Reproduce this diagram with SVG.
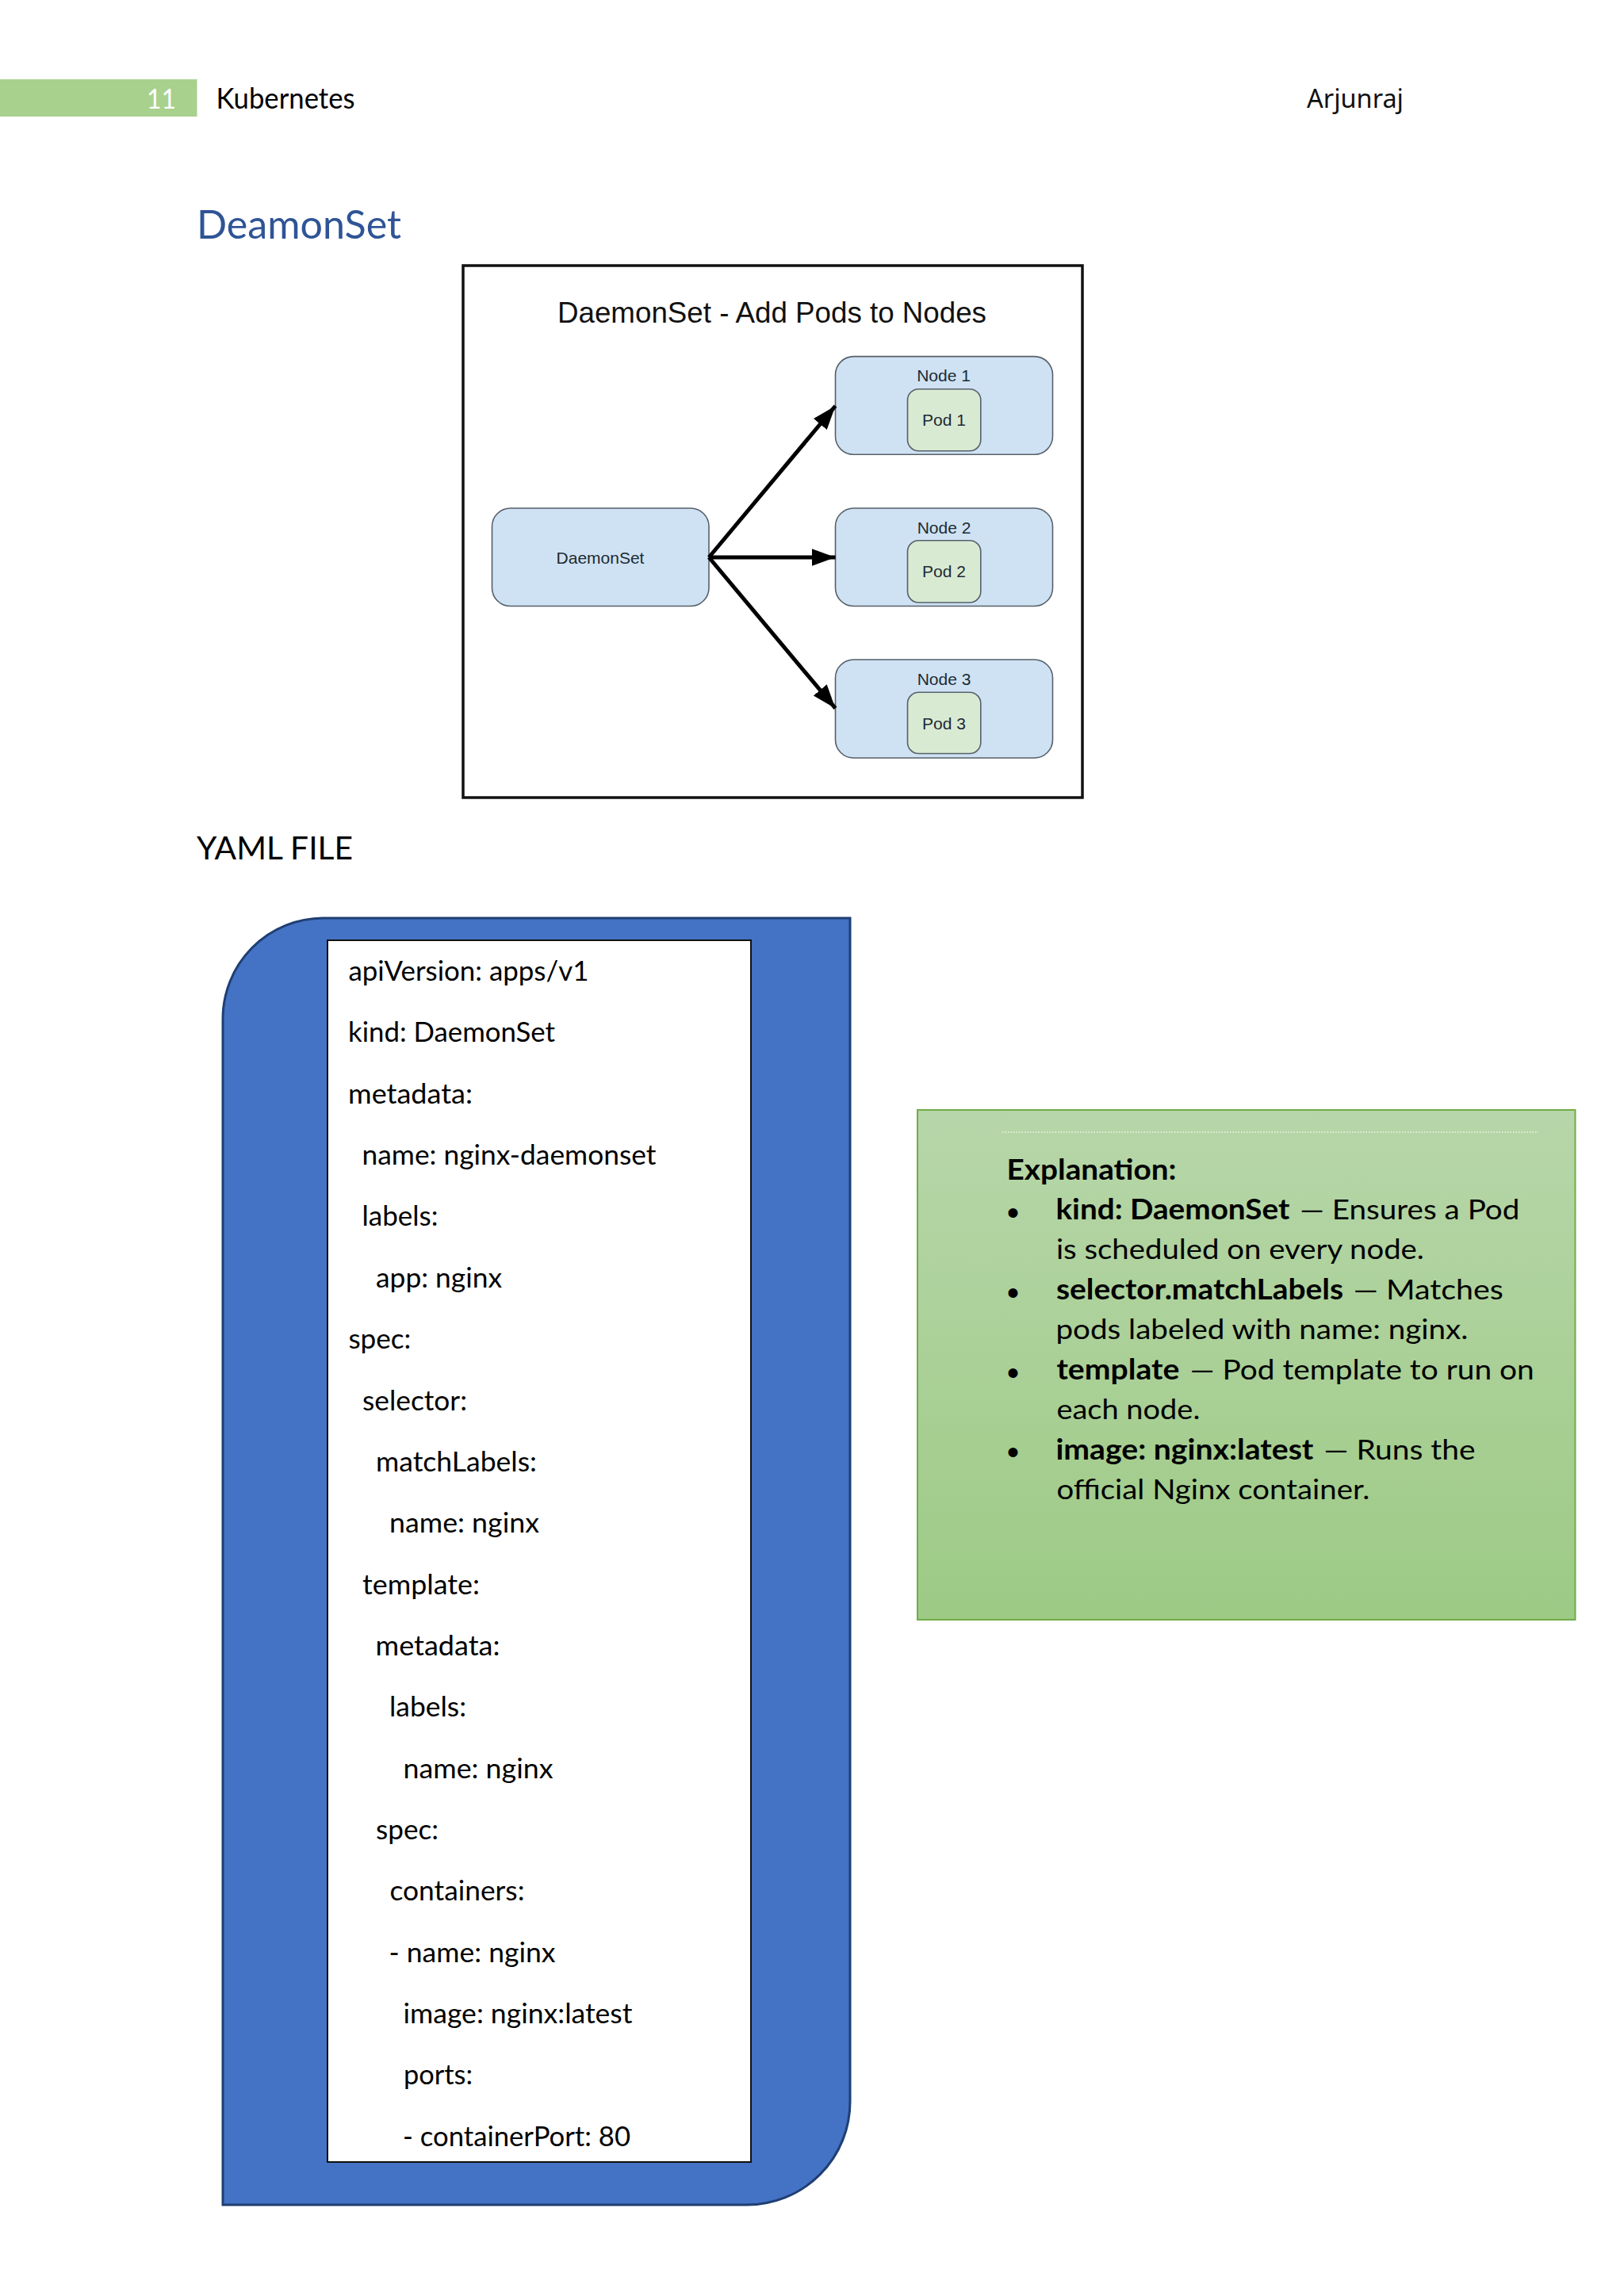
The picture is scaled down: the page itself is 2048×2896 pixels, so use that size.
<svg xmlns="http://www.w3.org/2000/svg" width="2048" height="2896" viewBox="0 0 2048 2896">
<style>
text{font-family:"Lato","Open Sans",sans-serif;fill:#000}
.d{font-family:"Liberation Sans",Arial,sans-serif;font-size:21px;fill:#1c2b33;text-anchor:middle}
.y{font-size:35.5px}
.e{font-size:35.5px;fill:#000}
.u{font-family:"Liberation Sans",Arial,sans-serif;font-size:44px;text-anchor:middle}
.b{font-weight:700}
.n{fill:#cfe2f3;stroke:#56606a;stroke-width:1.6}
.p{fill:#d9ead3;stroke:#56606a;stroke-width:1.6}
.c{fill:none;stroke:#000;stroke-width:5;marker-end:url(#ah)}
</style>
<defs>
<marker id="ah" markerUnits="userSpaceOnUse" markerWidth="30" markerHeight="22" refX="30" refY="11" orient="auto"><path d="M0 0L30 11L0 22z" fill="#000"/></marker>
<linearGradient id="g" x1="0" y1="0" x2="0" y2="1"><stop offset="0" stop-color="#b7d6a9"/><stop offset="1" stop-color="#9dca85"/></linearGradient>
</defs>
<rect width="2048" height="2896" fill="#fff"/>
<g id="header">
<rect x="0" y="100" width="248.500" height="47" fill="#a9d18e"/>
<text x="185" y="137" font-size="35.500" style="fill:#fff" textLength="37" lengthAdjust="spacingAndGlyphs">11</text>
<text x="272.500" y="137" font-size="36" textLength="175" lengthAdjust="spacingAndGlyphs">Kubernetes</text>
<text x="1648" y="135.500" style="font-family:'Noto Sans',sans-serif;fill:#111" font-size="33" textLength="122" lengthAdjust="spacingAndGlyphs">Arjunraj</text>
</g>
<text id="title" x="248" y="301" font-size="50" style="fill:#2f5496" textLength="258" lengthAdjust="spacingAndGlyphs">DeamonSet</text>
<rect id="frame" x="584" y="335" width="781" height="671" fill="#fff" stroke="#111" stroke-width="3.500"/>
<text id="frame-title" x="973.500" y="407" style="font-family:'Liberation Sans',Arial,sans-serif;fill:#111;text-anchor:middle" font-size="36" textLength="541" lengthAdjust="spacingAndGlyphs">DaemonSet - Add Pods to Nodes</text>
<g id="node-daemonset"><rect class="n" x="620.500" y="641" width="273.500" height="123.500" rx="23"/><text class="d" x="757" y="710.500">DaemonSet</text></g>
<g id="node-1"><rect class="n" x="1053.500" y="449.600" width="274" height="123.700" rx="23"/><text class="d" x="1190" y="481">Node 1</text>
<rect class="p" x="1144.500" y="490.700" width="92.300" height="78" rx="14"/><text class="d" x="1190.500" y="537">Pod 1</text></g>
<g id="node-2"><rect class="n" x="1053.500" y="641" width="274" height="123.500" rx="23"/><text class="d" x="1190.500" y="672.500">Node 2</text>
<rect class="p" x="1144.500" y="681.800" width="92.300" height="78.200" rx="14"/><text class="d" x="1190.500" y="728">Pod 2</text></g>
<g id="node-3"><rect class="n" x="1053.500" y="832" width="274" height="124" rx="23"/><text class="d" x="1190.500" y="864">Node 3</text>
<rect class="p" x="1144.500" y="873.300" width="92.300" height="77.200" rx="14"/><text class="d" x="1190.500" y="919.500">Pod 3</text></g>
<g id="connectors">
<path class="c" d="M894 703L1053.500 512"/>
<path class="c" d="M894 703L1053.500 703"/>
<path class="c" d="M894 703L1053.500 893.400"/>
</g>
<text id="yaml-heading" x="248" y="1084" font-size="41" textLength="197" lengthAdjust="spacingAndGlyphs">YAML FILE</text>
<g id="yaml-box">
<path d="M407 1158H1072V2651A130 130 0 0 1 942 2781H281V1285A127 127 0 0 1 407 1158Z" fill="#4472c4" stroke="#1f3f73" stroke-width="3"/>
<rect x="413" y="1186" width="534" height="1541" fill="#fff" stroke="#111" stroke-width="2"/>
<g transform="translate(0,1)">
<text class="y" x="439.400" y="1236" textLength="303" lengthAdjust="spacingAndGlyphs">apiVersion: apps/v1</text>
<text class="y" x="439" y="1313" textLength="261" lengthAdjust="spacingAndGlyphs">kind: DaemonSet</text>
<text class="y" x="439" y="1390.700" textLength="157" lengthAdjust="spacingAndGlyphs">metadata:</text>
<text class="y" x="456.500" y="1468" textLength="371" lengthAdjust="spacingAndGlyphs">name: nginx-daemonset</text>
<text class="y" x="456.500" y="1545.400" textLength="96" lengthAdjust="spacingAndGlyphs">labels:</text>
<text class="y" x="474" y="1622.800" textLength="159" lengthAdjust="spacingAndGlyphs">app: nginx</text>
<text class="y" x="439.400" y="1700.100" textLength="79" lengthAdjust="spacingAndGlyphs">spec:</text>
<text class="y" x="457" y="1777.500" textLength="132" lengthAdjust="spacingAndGlyphs">selector:</text>
<text class="y" x="474" y="1854.800" textLength="203" lengthAdjust="spacingAndGlyphs">matchLabels:</text>
<text class="y" x="491" y="1932.200" textLength="189" lengthAdjust="spacingAndGlyphs">name: nginx</text>
<text class="y" x="457" y="2009.500" textLength="148" lengthAdjust="spacingAndGlyphs">template:</text>
<text class="y" x="473.500" y="2086.900" textLength="157" lengthAdjust="spacingAndGlyphs">metadata:</text>
<text class="y" x="491" y="2164.200" textLength="97" lengthAdjust="spacingAndGlyphs">labels:</text>
<text class="y" x="508.500" y="2241.600" textLength="189" lengthAdjust="spacingAndGlyphs">name: nginx</text>
<text class="y" x="474" y="2318.900" textLength="79" lengthAdjust="spacingAndGlyphs">spec:</text>
<text class="y" x="491.500" y="2396.300" textLength="170" lengthAdjust="spacingAndGlyphs">containers:</text>
<text class="y" x="490.500" y="2473.600" textLength="210" lengthAdjust="spacingAndGlyphs">- name: nginx</text>
<text class="y" x="508.500" y="2551" textLength="289" lengthAdjust="spacingAndGlyphs">image: nginx:latest</text>
<text class="y" x="509" y="2628.300" textLength="87" lengthAdjust="spacingAndGlyphs">ports:</text>
<text class="y" x="508" y="2705.700" textLength="287" lengthAdjust="spacingAndGlyphs">- containerPort: 80</text>
</g>
</g>
<g id="explanation">
<rect x="1157" y="1400" width="829.500" height="643" fill="url(#g)" stroke="#70ad47" stroke-width="2"/>
<path d="M1264 1428H1940" stroke="#eef5e8" stroke-width="1.500" stroke-dasharray="1.500 2" fill="none"/>
<text class="e b" x="1269.600" y="1487.800" textLength="214" lengthAdjust="spacingAndGlyphs">Explanation:</text>
<text class="u" x="1277.400" y="1545">•</text>
<text class="u" x="1277.400" y="1645.800">•</text>
<text class="u" x="1277.400" y="1746.600">•</text>
<text class="u" x="1277.400" y="1847.400">•</text>
<text class="e b" x="1331.400" y="1537.800" textLength="295" lengthAdjust="spacingAndGlyphs">kind: DaemonSet</text>
<text class="e" x="1639.300" y="1537.800" textLength="277" lengthAdjust="spacingAndGlyphs">— Ensures a Pod</text>
<text class="e" x="1331.900" y="1587.800" textLength="464" lengthAdjust="spacingAndGlyphs">is scheduled on every node.</text>
<text class="e b" x="1332" y="1638.700" textLength="362" lengthAdjust="spacingAndGlyphs">selector.matchLabels</text>
<text class="e" x="1706.700" y="1638.700" textLength="189" lengthAdjust="spacingAndGlyphs">— Matches</text>
<text class="e" x="1331.400" y="1689" textLength="520" lengthAdjust="spacingAndGlyphs">pods labeled with name: nginx.</text>
<text class="e b" x="1332.400" y="1739.600" textLength="155" lengthAdjust="spacingAndGlyphs">template</text>
<text class="e" x="1500.700" y="1739.600" textLength="434" lengthAdjust="spacingAndGlyphs">— Pod template to run on</text>
<text class="e" x="1332.400" y="1790" textLength="181" lengthAdjust="spacingAndGlyphs">each node.</text>
<text class="e b" x="1331.400" y="1841" textLength="325" lengthAdjust="spacingAndGlyphs">image: nginx:latest</text>
<text class="e" x="1669.600" y="1841" textLength="191" lengthAdjust="spacingAndGlyphs">— Runs the</text>
<text class="e" x="1332.400" y="1891.300" textLength="395" lengthAdjust="spacingAndGlyphs">official Nginx container.</text>
</g>
</svg>
